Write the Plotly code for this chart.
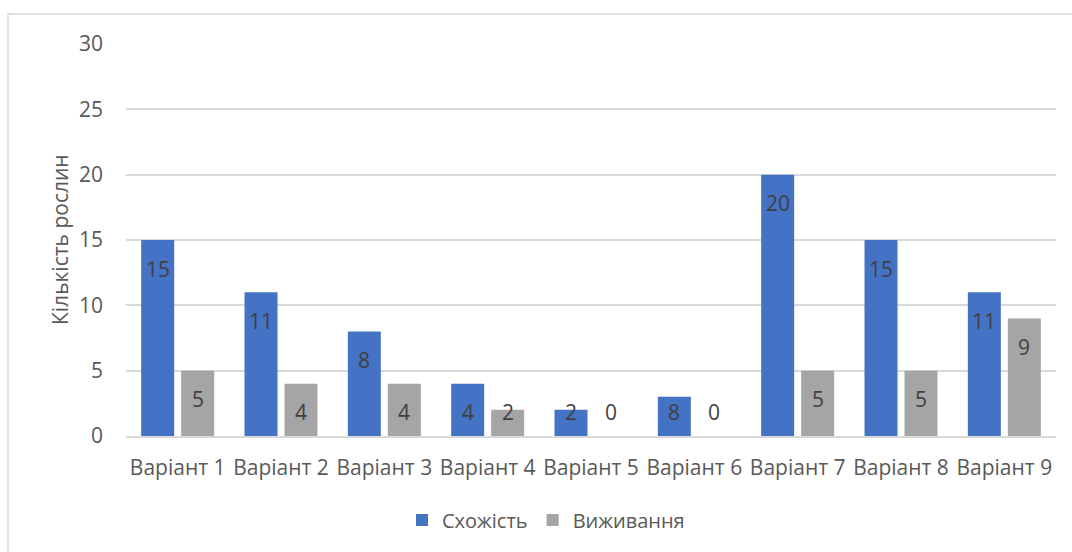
import plotly.graph_objects as go

categories = ["Варіант 1", "Варіант 2", "Варіант 3", "Варіант 4", "Варіант 5",
              "Варіант 6", "Варіант 7", "Варіант 8", "Варіант 9"]
shozhist = [15, 11, 8, 4, 2, 3, 20, 15, 11]
shozhist_labels = ["15", "11", "8", "4", "2", "8", "20", "15", "11"]
vyzhyvannia = [5, 4, 4, 2, 0, 0, 5, 5, 9]
vyzhyvannia_labels = ["5", "4", "4", "2", "0", "0", "5", "5", "9"]

FONT = "Open Sans"
TXT = "#595959"
FS = 21
W, H = 1072, 552
L, R, T, B = 126, 16, 44, 116
plot_h = H - T - B
y_max = 30
px_per_unit = plot_h / y_max

fig = go.Figure()
fig.add_trace(go.Bar(name="Схожість", x=categories, y=shozhist,
                     marker=dict(color="#4472C4", line=dict(width=0))))
fig.add_trace(go.Bar(name="Виживання", x=categories, y=vyzhyvannia,
                     marker=dict(color="#A5A5A5", line=dict(width=0))))

annotations = []
for vals, labels, shift in [(shozhist, shozhist_labels, -20), (vyzhyvannia, vyzhyvannia_labels, 20)]:
    for c, v, t in zip(categories, vals, labels):
        ys = max(v * px_per_unit - 28.5, 24)
        annotations.append(dict(x=c, y=0, xref="x", yref="y", text=t, showarrow=False,
                                xshift=shift, yshift=ys, yanchor="middle",
                                font=dict(family=FONT, size=FS, color="#404040")))

annotations.append(dict(text="Кількість рослин", xref="paper", yref="paper",
                        x=(60 - L) / (W - L - R), y=0.5, textangle=-90, showarrow=False,
                        xanchor="center", yanchor="middle",
                        font=dict(family=FONT, size=FS, color=TXT)))

fig.update_layout(
    width=W, height=H,
    margin=dict(l=L, r=R, t=T, b=B),
    paper_bgcolor="white", plot_bgcolor="white",
    barmode="group", bargap=0.226, bargroupgap=0.175,
    font=dict(family=FONT, size=FS, color=TXT),
    xaxis=dict(showgrid=False, showline=True, linecolor="#d9d9d9", linewidth=1.5,
               ticks="", tickfont=dict(size=FS, color=TXT), ticklabelstandoff=12),
    yaxis=dict(range=[0, y_max], dtick=5, showgrid=True, gridcolor="#d9d9d9", gridwidth=1.5,
               zeroline=False, showline=False, ticks="", ticklabelstandoff=22,
               tickfont=dict(size=FS, color=TXT)),
    legend=dict(orientation="h", x=(546 - L) / (W - L - R), y=(436 - 520) / plot_h,
                xanchor="center", yanchor="middle", font=dict(size=FS - 1, color=TXT),
                itemwidth=30, traceorder="normal"),
    annotations=annotations,
    shapes=[dict(type="rect", xref="paper", yref="paper",
                 x0=(8 - L) / (W - L - R), x1=1.2,
                 y0=-0.5, y1=(436 - 14) / plot_h,
                 line=dict(color="#d9d9d9", width=1.5), layer="below")],
)

fig.write_html("out.html")
